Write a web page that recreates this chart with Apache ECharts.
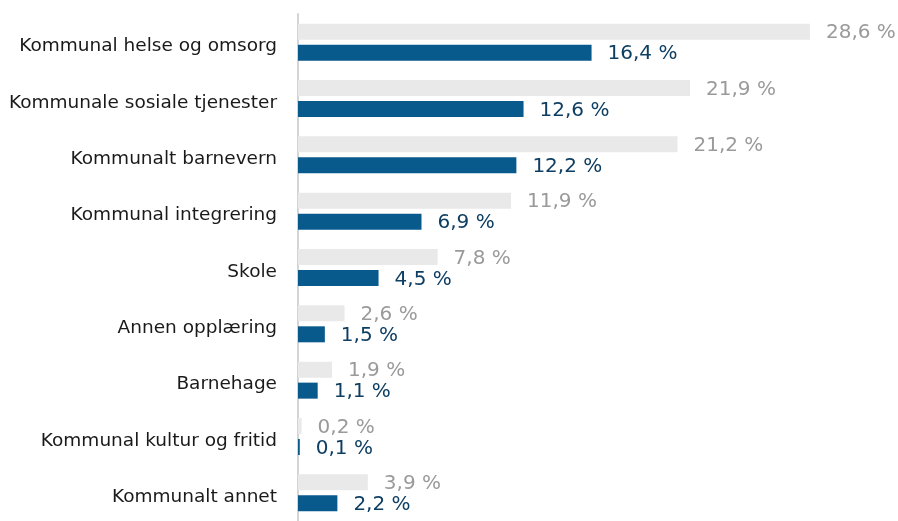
<!DOCTYPE html>
<html>
<head>
<meta charset="utf-8">
<script src="https://cdn.jsdelivr.net/npm/echarts@6/dist/echarts.min.js"></script>
<style>
  html, body { margin: 0; padding: 0; background: #ffffff; }
  #chart { width: 898px; height: 521px; }
</style>
</head>
<body>
<div id="chart"></div>
<script>
// Categories, top to bottom
const categories = [
  'Kommunal helse og omsorg',
  'Kommunale sosiale tjenester',
  'Kommunalt barnevern',
  'Kommunal integrering',
  'Skole',
  'Annen opplæring',
  'Barnehage',
  'Kommunal kultur og fritid',
  'Kommunalt annet'
];
// Light grey series (percent)
const greyValues = [28.6, 21.9, 21.2, 11.9, 7.8, 2.6, 1.9, 0.2, 3.9];
// Blue series (percent)
const blueValues = [16.4, 12.6, 12.2, 6.9, 4.5, 1.5, 1.1, 0.1, 2.2];

const FONT = 'DejaVu Sans';
const fmt = p => p.value.toFixed(1).replace('.', ',') + ' %';

const chart = echarts.init(document.getElementById('chart'), null, { renderer: 'canvas' });
chart.setOption({
  animation: false,
  grid: { left: 298, right: 63, top: 14, height: 515, containLabel: false },
  xAxis: {
    type: 'value', min: 0, max: 30,
    axisLine: { show: false }, axisTick: { show: false },
    axisLabel: { show: false }, splitLine: { show: false }
  },
  yAxis: {
    type: 'category', data: categories, inverse: true,
    axisLine: { show: true, lineStyle: { color: '#d4d4d4', width: 2 } },
    axisTick: { show: false },
    axisLabel: {
      margin: 21,
      formatter: v => '{c|' + v + '}',
      rich: { c: { color: '#1a1a1a', fontFamily: FONT, fontSize: 18.5, padding: [9, 0, 0, 0] } }
    }
  },
  series: [
    {
      type: 'bar', data: greyValues, barWidth: 16, barGap: '31%',
      itemStyle: { color: '#e8e9e8' },
      label: { show: true, position: 'right', distance: 16, formatter: fmt, offset: [0, 1.5],
               color: '#9a9a9a', fontFamily: FONT, fontSize: 20 }
    },
    {
      type: 'bar', data: blueValues, barWidth: 16, barGap: '31%',
      itemStyle: { color: '#08598c' },
      label: { show: true, position: 'right', distance: 16, formatter: fmt, offset: [0, 1.5],
               color: '#0e3e62', fontFamily: FONT, fontSize: 20 }
    }
  ]
});
</script>
</body>
</html>
